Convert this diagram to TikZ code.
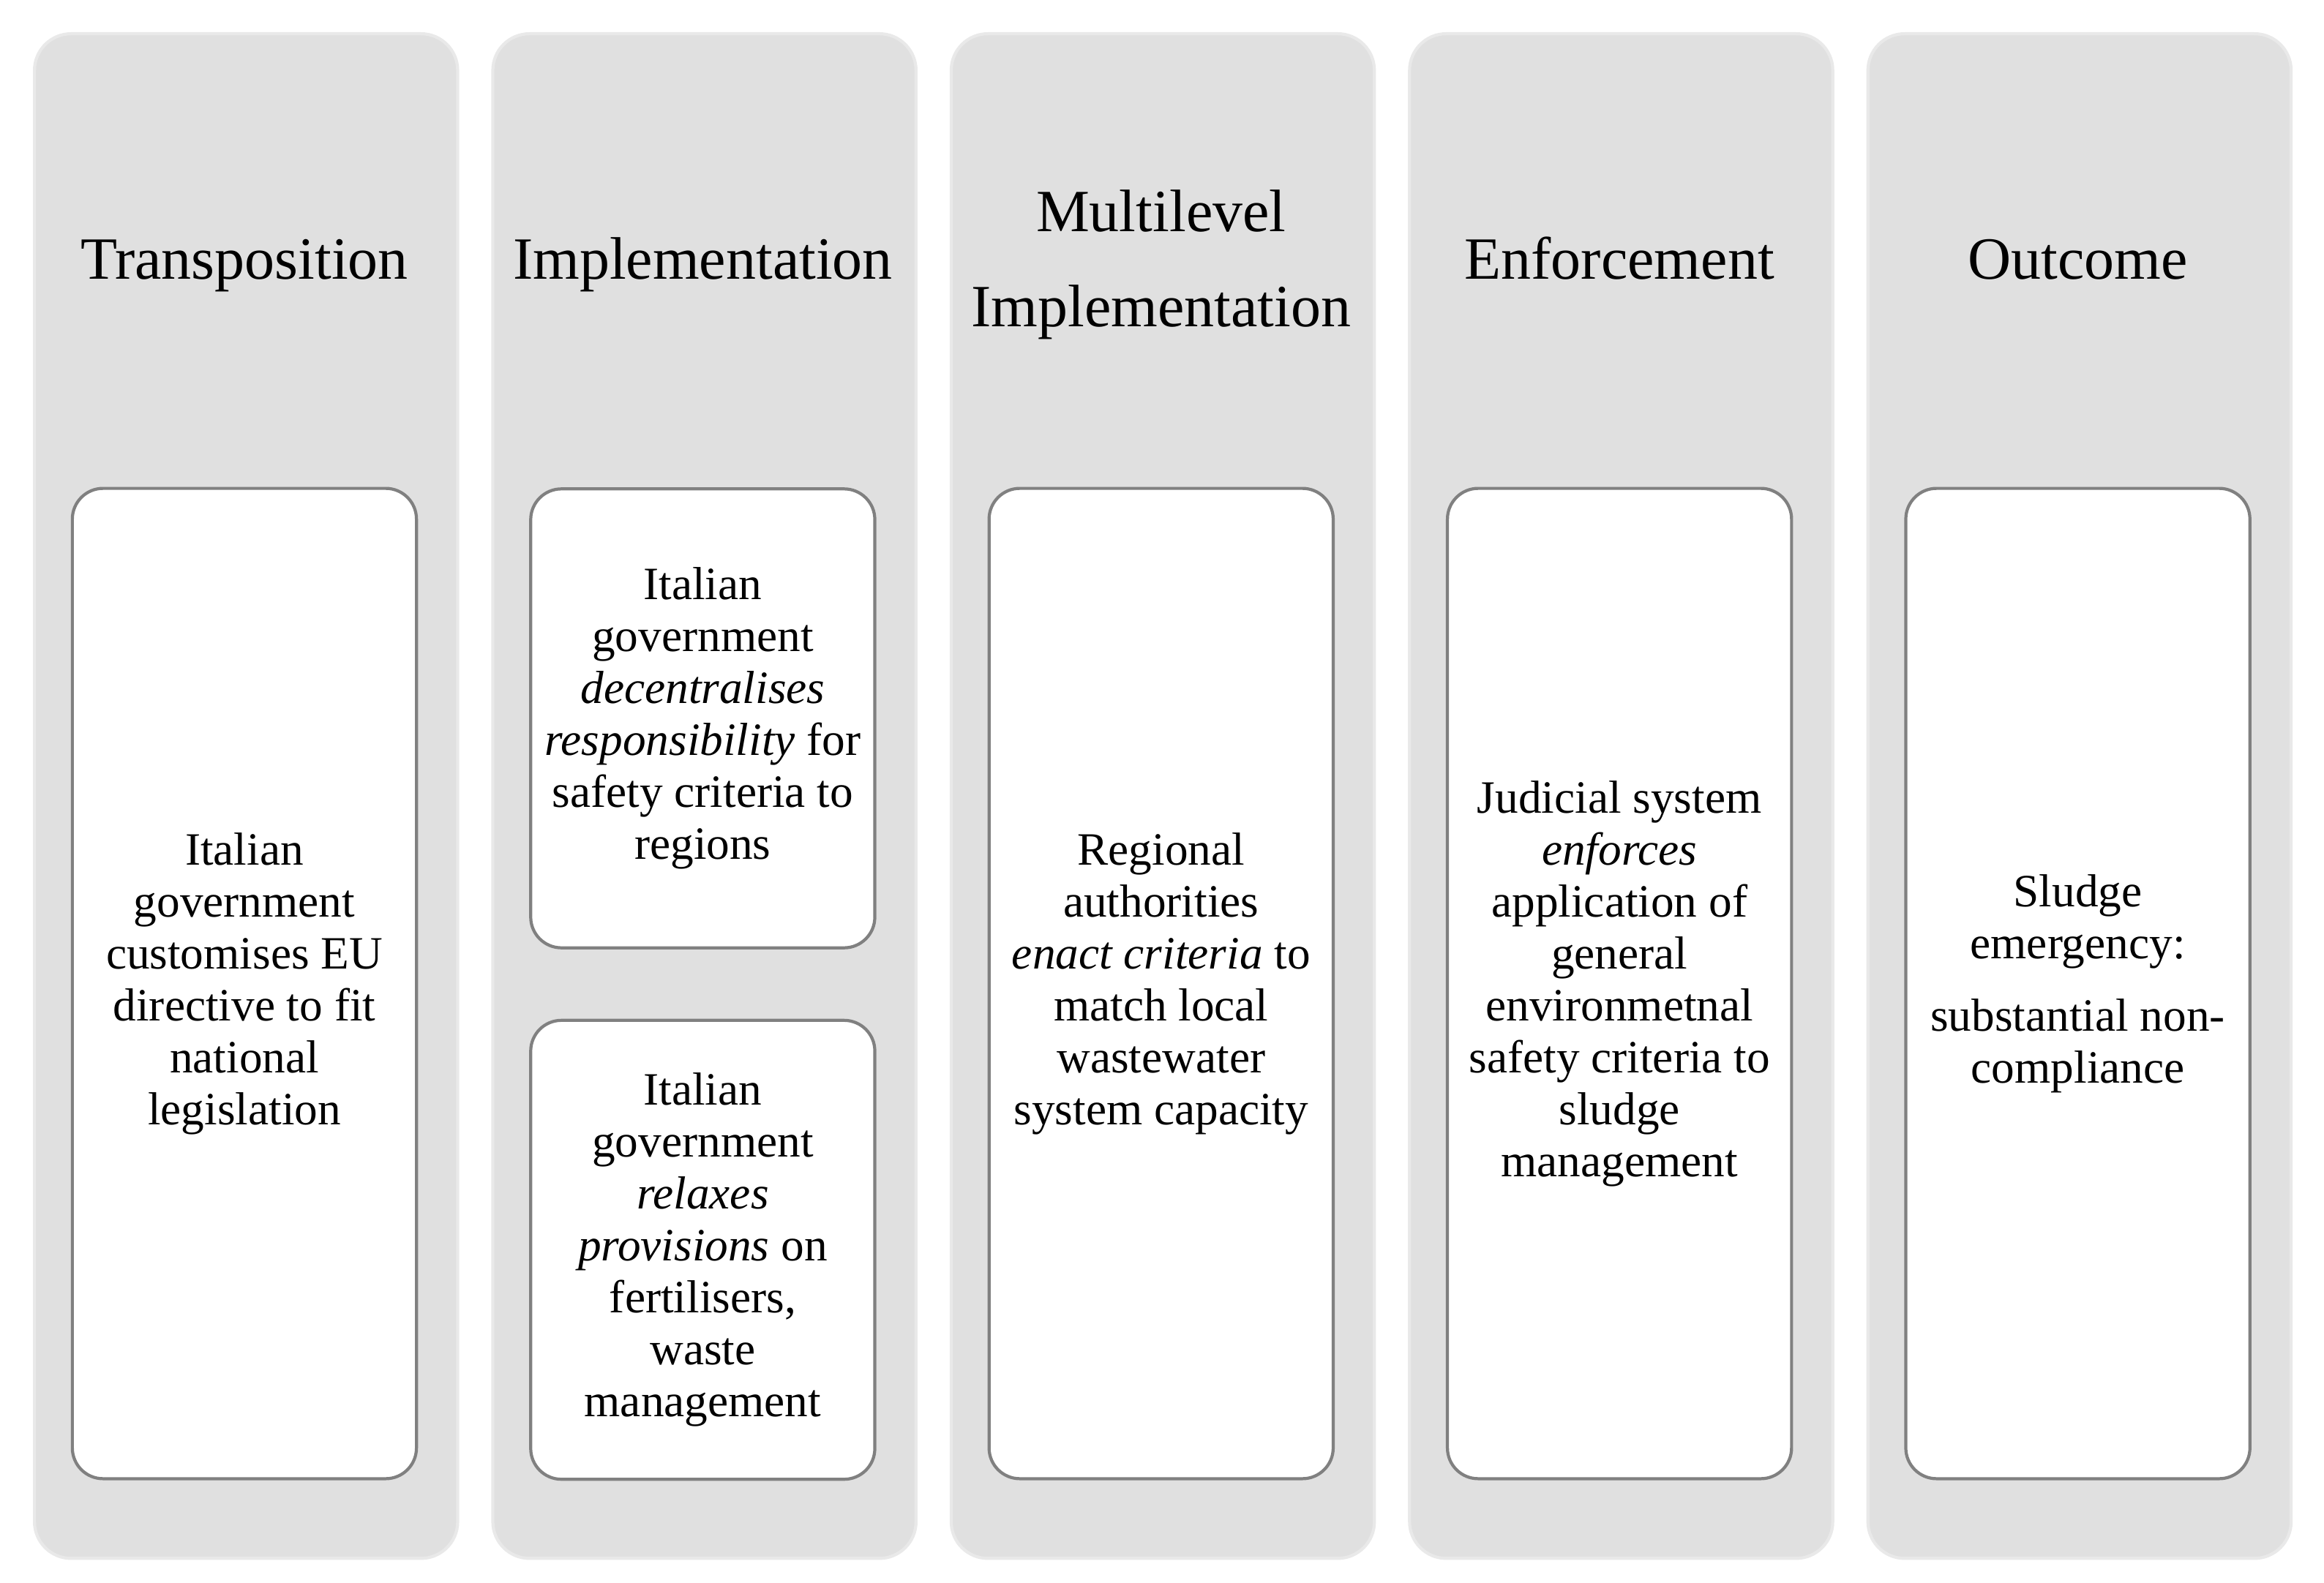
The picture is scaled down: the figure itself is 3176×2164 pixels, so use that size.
\documentclass[tikz,border=0pt]{standalone}
\usepackage{fontspec}
\setmainfont{Liberation Serif}
\definecolor{colgrey}{HTML}{E0E0E0}
\definecolor{coledge}{HTML}{E9E9E9}
\definecolor{cardedge}{HTML}{808080}
\begin{document}
\begin{tikzpicture}[x=0.01cm,y=-0.01cm,
  column/.style={fill=colgrey, draw=coledge, line width=1.2pt, rounded corners=0.5cm,
    minimum width=5.78cm, minimum height=20.83cm, inner sep=0pt, anchor=north west},
  heading/.style={align=center, font=\fontsize{23.3}{37}\selectfont, inner sep=0pt},
  card/.style={draw=cardedge, fill=white, line width=1.2pt, rounded corners=0.42cm,
    minimum width=4.70cm, align=center, inner sep=0pt,
    font=\fontsize{18}{20.2}\selectfont},
  tall/.style={card, minimum height=13.53cm},
  half/.style={card, minimum height=6.27cm}]
\useasboundingbox (0,0) rectangle (3176,2164);
% columns
\node[column] (c1) at (45,44) {};
\node[column] (c2) at (671.4,44) {};
\node[column] (c3) at (1297.8,44) {};
\node[column] (c4) at (1924.2,44) {};
\node[column] (c5) at (2550.6,44) {};
% headings
\node[heading, anchor=base] (h1) at (334,382) {Transposition};
\node[heading, anchor=base] (h2) at (960.4,382) {Implementation};
\node[heading] (h3) at (1586.8,362) {Multilevel\\Implementation};
\node[heading, anchor=base] (h4) at (2213.2,382) {Enforcement};
\node[heading, anchor=base] (h5) at (2839.6,382) {Outcome};
% cards
\node[tall] (b1) at (334,1344.5) {Italian\\government\\customises EU\\directive to fit\\national\\legislation};
\node[half] (b2a) at (960.4,982) {Italian\\government\\\textit{decentralises}\\\textit{responsibility} for\\safety criteria to\\regions};
\node[half] (b2b) at (960.4,1708.5) {Italian\\government\\\textit{relaxes}\\\textit{provisions} on\\fertilisers,\\waste\\management};
\node[tall] (b3) at (1586.8,1344.5) {Regional\\authorities\\\textit{enact criteria} to\\match local\\wastewater\\system capacity};
\node[tall] (b4) at (2213.2,1344.5) {Judicial system\\\textit{enforces}\\application of\\general\\environmetnal\\safety criteria to\\sludge\\management};
\node[tall] (b5) at (2839.6,1344.5) {Sludge\\emergency:\\[8pt]substantial non-\\compliance};
\end{tikzpicture}
\end{document}
